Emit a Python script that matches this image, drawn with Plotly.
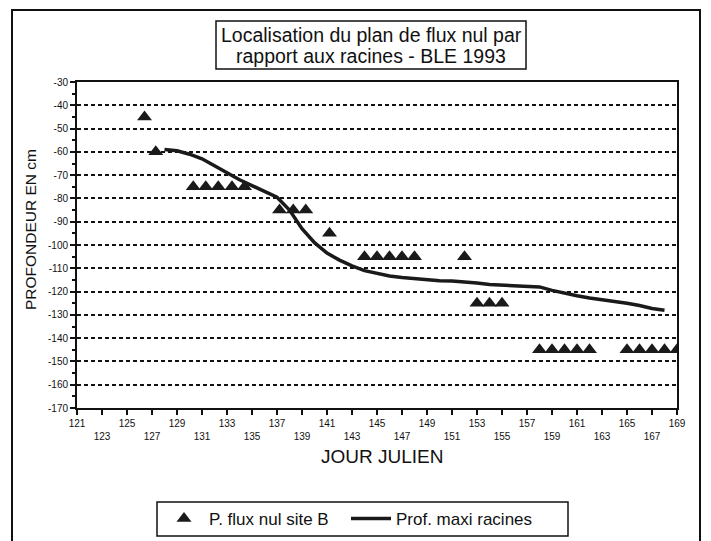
import plotly.graph_objects as go

# Zero-flux plane (site B)
flux_days = [126.4, 127.3, 130.3, 131.3, 132.3, 133.4, 134.4, 137.2, 138.3, 139.3, 141.2,
             144, 145, 146, 147, 148, 152, 153, 154, 155,
             158, 159, 160, 161, 162, 165, 166, 167, 168, 169]
flux_depth = [-45, -60, -75, -75, -75, -75, -75, -85, -85, -85, -95,
              -105, -105, -105, -105, -105, -105, -125, -125, -125,
              -145, -145, -145, -145, -145, -145, -145, -145, -145, -145]

# Maximum root depth
root_days = list(range(128, 169))
root_depth = [-59, -59.5, -61, -63, -66, -69, -72, -74.5, -77, -79.5,
              -85, -93, -99, -103.5, -106.5, -109, -111, -112.3, -113.3, -114,
              -114.5, -115, -115.3, -115.5, -115.8, -116.3, -117, -117.2, -117.5, -117.7,
              -118, -119.5, -120.8, -121.8, -122.8, -123.5, -124.2, -125, -126, -127.3,
              -128]

x_ticks = list(range(121, 170, 2))
x_ticktext = [str(v) if i % 2 == 0 else "<br>" + str(v) for i, v in enumerate(x_ticks)]
y_ticks = list(range(-170, -29, 10))

FONT = "Liberation Sans, Arial, Helvetica, sans-serif"
W, H = 711, 541
L, R, T, B = 77, 34, 82, 133
PW, PH = W - L - R, H - T - B


def px(x):
    return (x - L) / PW


def py(y):
    return (H - B - y) / PH


fig = go.Figure()
fig.add_trace(go.Scatter(
    x=flux_days, y=flux_depth, mode="markers", name="P. flux nul site B",
    marker=dict(symbol="triangle-up", size=13, color="#1a1a1a"),
))
fig.add_trace(go.Scatter(
    x=root_days, y=root_depth, mode="lines", name="Prof. maxi racines",
    line=dict(color="#1a1a1a", width=3.5),
))

fig.update_layout(
    width=W, height=H,
    margin=dict(l=L, r=R, t=T, b=B, autoexpand=False),
    paper_bgcolor="white", plot_bgcolor="white",
    font=dict(family=FONT, color="#111"),
    showlegend=True,
    legend=dict(
        orientation="h", x=px(159), y=py(519), xanchor="left", yanchor="middle",
        borderwidth=0, bgcolor="rgba(0,0,0,0)",
        font=dict(size=17, family=FONT), itemwidth=40,
        entrywidth=132, entrywidthmode="pixels",
    ),
    xaxis=dict(
        range=[121, 169], tickmode="array", tickvals=x_ticks, ticktext=x_ticktext,
        ticks="outside", ticklen=5, tickwidth=1.5, tickcolor="#111",
        tickfont=dict(size=10, family=FONT, color="#111"),
        showline=True, linecolor="#111", linewidth=2, mirror=True,
        showgrid=False, zeroline=False, automargin=False,
    ),
    yaxis=dict(
        range=[-170, -30], tickmode="array", tickvals=y_ticks,
        ticktext=[str(v) for v in y_ticks],
        ticks="outside", ticklen=5, tickwidth=1.5, tickcolor="#111",
        tickfont=dict(size=10, family=FONT, color="#111"),
        minor=dict(dtick=5, ticks="outside", ticklen=3, tickcolor="#111", showgrid=False),
        showline=True, linecolor="#111", linewidth=2, mirror=True,
        showgrid=True, gridcolor="#111", gridwidth=1.5, griddash="4px,3px",
        zeroline=False, automargin=False,
    ),
    annotations=[
        dict(text="Localisation du plan de flux nul par",
             xref="paper", yref="paper", x=px(371), y=py(35), showarrow=False,
             xanchor="center", yanchor="middle",
             font=dict(size=19.5, family=FONT, color="#111")),
        dict(text="rapport aux racines - BLE 1993",
             xref="paper", yref="paper", x=px(371), y=py(56), showarrow=False,
             xanchor="center", yanchor="middle",
             font=dict(size=19.5, family=FONT, color="#111")),
        dict(text="JOUR JULIEN", xref="paper", yref="paper", x=px(382), y=py(456),
             showarrow=False, xanchor="center", yanchor="middle",
             font=dict(size=19, family=FONT, color="#111")),
        dict(text="PROFONDEUR EN cm", xref="paper", yref="paper", x=px(30), y=py(230),
             showarrow=False, xanchor="center", yanchor="middle", textangle=-90,
             font=dict(size=15.5, family=FONT, color="#111")),
    ],
    shapes=[
        dict(type="rect", xref="paper", yref="paper",
             x0=px(12), x1=px(700), y0=py(560), y1=py(10),
             line=dict(color="#111", width=2), fillcolor="rgba(0,0,0,0)", layer="below"),
        dict(type="rect", xref="paper", yref="paper",
             x0=px(216), x1=px(526), y0=py(69), y1=py(21),
             line=dict(color="#111", width=1.5), fillcolor="rgba(0,0,0,0)", layer="below"),
        dict(type="rect", xref="paper", yref="paper",
             x0=px(157), x1=px(568), y0=py(536), y1=py(502),
             line=dict(color="#111", width=1.5), fillcolor="rgba(0,0,0,0)", layer="below"),
    ],
)

fig.write_html(
    "out.html",
    config={"displayModeBar": False},
    post_script="document.body.style.margin='0';document.body.style.overflow='hidden';",
)
